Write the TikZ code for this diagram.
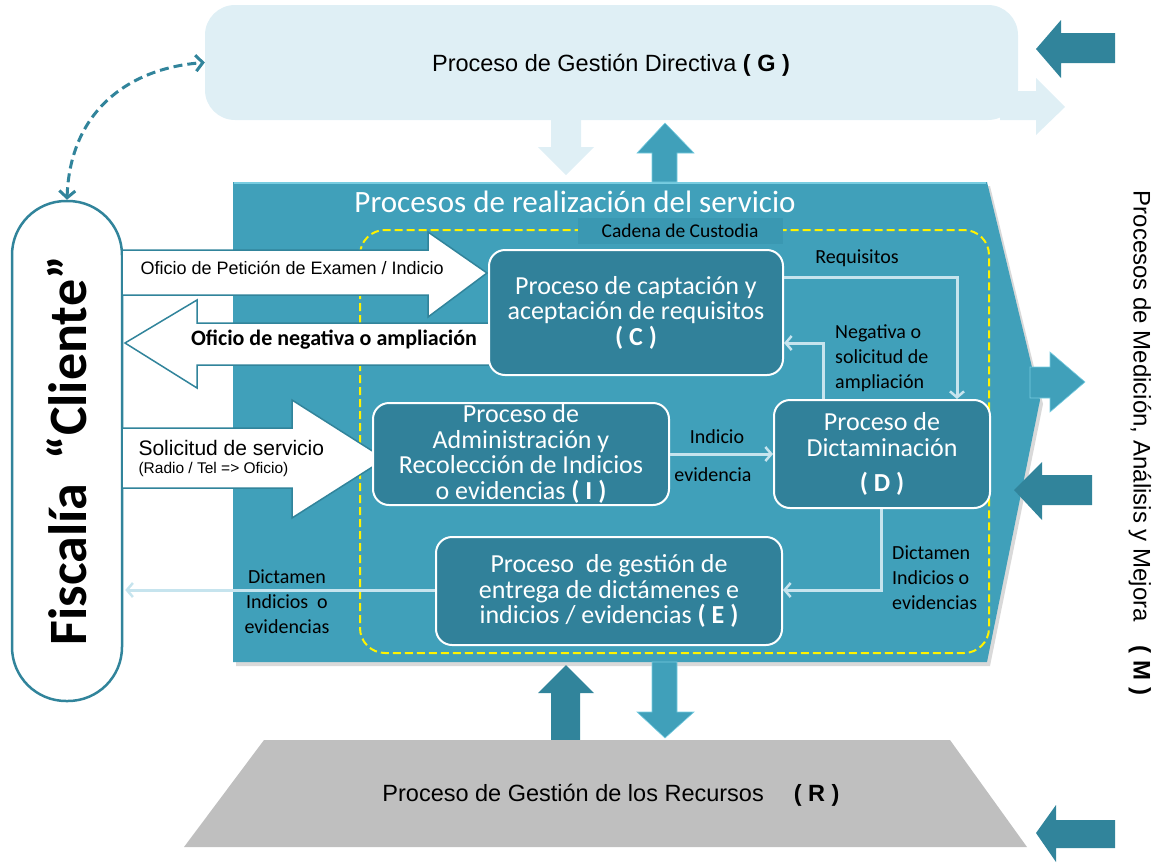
\documentclass[tikz,border=0pt]{standalone}
\usepackage{fontspec}
\setmainfont{Liberation Sans}
\newfontfamily\calfont{Carlito}
\usetikzlibrary{positioning,arrows.meta,calc}

\definecolor{bandblue}{RGB}{223,239,245}
\definecolor{maincol}{RGB}{64,160,186}
\definecolor{boxcol}{RGB}{49,129,154}
\definecolor{darkteal}{RGB}{49,132,155}
\definecolor{paleblue}{RGB}{198,228,238}
\definecolor{resgray}{RGB}{191,191,191}
\definecolor{custcol}{RGB}{58,152,178}
\definecolor{edgecyan}{RGB}{120,205,225}

\tikzset{
  procbox/.style={draw=white, line width=2pt, fill=boxcol, rounded corners=16pt, text=white,
    align=center, inner sep=0pt, font=\calfont\fontsize{26}{25.5}\selectfont},
  lbl/.style={font=\calfont\fontsize{20}{25}\selectfont, align=left, inner sep=0pt},
  paleline/.style={draw=paleblue, line width=3pt, -{Straight Barb[length=6pt,width=14pt,line width=2.5pt]}},
  whitearrow/.style={fill=white, draw=darkteal, line width=1.5pt, line join=miter},
  darkarrow/.style={fill=darkteal},
  tealarrow/.style={fill=maincol, draw=edgecyan, line width=0.6pt},
}

\begin{document}
\begin{tikzpicture}[x=1pt,y=-1pt]
\useasboundingbox (0,0) rectangle (1163,863);

% direccion (G)
\fill[bandblue] (1000,91) -- (1036,91) -- (1036,78) -- (1065,107) -- (1036,135) -- (1036,120) -- (1000,120) -- cycle;
\node[fill=bandblue, rounded corners=30pt, minimum width=813pt, minimum height=115pt, inner sep=0pt] (G) at (611.5,62.5) {};
\node[font=\fontsize{23.5}{28}\selectfont] (Gtxt) at (611,65) {Proceso de Gestión Directiva \textbf{( G )}};
\fill[bandblue] (551,120) -- (581,120) -- (581,147) -- (594,147) -- (566,175) -- (538,147) -- (551,147) -- cycle;

% cuerpo principal
\fill[black, opacity=0.15] (236,186) -- (990,186) -- (1043,404) -- (990,666) -- (236,666) -- cycle;
\fill[maincol] (233,182) -- (987,182) -- (1040,400) -- (987,662) -- (233,662) -- cycle;
\draw[edgecyan, line width=2pt] (234,183) -- (986,183);
\node[font=\calfont\fontsize{31}{34}\selectfont, text=white] (title) at (575,202) {Procesos de realización del servicio};

% flechas verticales
\draw[tealarrow] (652,182) -- (652,153) -- (637,153) -- (665,123) -- (694,153) -- (677,153) -- (677,182) -- cycle;
\draw[tealarrow] (652,662) -- (677,662) -- (677,712) -- (694,712) -- (665,738) -- (637,712) -- (652,712) -- cycle;
\fill[darkarrow] (551,740) -- (551,693) -- (538,693) -- (566,665) -- (594,693) -- (580,693) -- (580,740) -- cycle;
\draw[tealarrow] (1030,367) -- (1050,367) -- (1050,352) -- (1085,382) -- (1050,412) -- (1050,398) -- (1030,398) -- cycle;

% flechas de medicion
\fill[darkarrow] (1115,33) -- (1061,33) -- (1061,20) -- (1036,49) -- (1061,78) -- (1061,63) -- (1115,63) -- cycle;
\fill[darkarrow] (1092,475) -- (1042,475) -- (1042,462) -- (1014,490) -- (1042,520) -- (1042,505) -- (1092,505) -- cycle;
\fill[darkarrow] (1115,820) -- (1056,820) -- (1056,805) -- (1036,833) -- (1056,862) -- (1056,848) -- (1115,848) -- cycle;

% cadena de custodia
\draw[yellow, line width=2pt, dash pattern=on 8pt off 4pt, rounded corners=25pt] (360,230) rectangle (989,653);
\node[fill=custcol, minimum width=205pt, minimum height=26pt, inner sep=0pt,
  font=\calfont\fontsize{19.5}{22}\selectfont] (cust) at (680,231) {Cadena de Custodia};

% cliente
\node[draw=darkteal, line width=2.5pt, fill=white, rounded corners=54pt, minimum width=110pt,
  minimum height=500pt, inner sep=0pt] (cli) at (67,451) {};
\node[rotate=90, font=\calfont\bfseries\fontsize{54}{60}\selectfont] (fis) at (cli) {Fiscalía\ \ “Cliente”};

% flechas blancas
\draw[whitearrow] (122,250) -- (428,250) -- (428,232) -- (487,273) -- (428,317) -- (428,295) -- (122,295) -- cycle;
\node[anchor=west, font=\fontsize{18}{21}\selectfont] (ofi1) at (137,268) {Oficio de Petición de Examen / Indicio};
\draw[whitearrow] (489,323) -- (197,323) -- (197,300) -- (125,343) -- (197,388) -- (197,365) -- (489,365);
\node[font=\calfont\bfseries\fontsize{22}{26}\selectfont] (ofi2) at (334,340) {Oficio de negativa o ampliación};
\draw[whitearrow] (122,428) -- (292,428) -- (292,400) -- (385,459) -- (292,518) -- (292,488) -- (122,488) -- cycle;
\node[anchor=west, font=\fontsize{21}{24}\selectfont] (sol) at (135,448) {Solicitud de servicio};
\node[anchor=west, font=\fontsize{15.5}{18}\selectfont] (rad) at (135,469) {(Radio / Tel => Oficio)};

% procesos
\node[procbox, minimum width=294pt, minimum height=125pt] (C) at (636,312.5)
  {Proceso de captación y\\aceptación de requisitos\\\textbf{( C )}};
\node[procbox, minimum width=296pt, minimum height=102pt] (I) at (521,454)
  {Proceso de\\Administración y\\Recolección de Indicios\\o evidencias \textbf{( I )}};
\node[procbox, minimum width=216pt, minimum height=108pt] (D) at (882,454)
  {Proceso de\\Dictaminación\\[10pt]\textbf{( D )}};
\node[procbox, minimum width=346pt, minimum height=108pt] (E) at (609,591)
  {Proceso\ \ de gestión de\\entrega de dictámenes e\\indicios / evidencias \textbf{( E )}};

% conectores
\coordinate (rq) at (957,277);
\draw[paleline] (C.east |- rq) -- (rq) -- (rq |- D.north);
\node[lbl] (req) at (857,258) {Requisitos};
\coordinate (ng) at (823,343);
\draw[paleline] (ng |- D.north) -- (ng) -- (C.east |- ng);
\node[lbl, anchor=west] (neg) at (835,358) {Negativa o\\solicitud de\\ampliación};
\draw[paleline] (I.east) -- (D.west);
\node[lbl] (ind) at (717,437) {Indicio};
\node[lbl] (evi) at (713,475) {evidencia};
\coordinate (dt) at (881,590);
\draw[paleline] (dt |- D.south) -- (dt) -- (E.east |- dt);
\node[lbl, anchor=west] (dic1) at (892,578) {Dictamen\\Indicios o\\evidencias};
\draw[paleline, shorten >=2pt] (E.west |- dt) -- (cli.east |- dt);
\node[lbl, align=center] (dic2) at (287,602) {Dictamen\\Indicios\ \ o\\evidencias};

% dialogo cliente - direccion
\draw[darkteal, line width=3pt, dash pattern=on 9pt off 5pt,
  {Straight Barb[length=7pt,width=16pt]}-{Straight Barb[length=7pt,width=16pt]}]
  (cli.north) .. controls (70,110) and (130,68) .. (G.west);

% recursos (R)
\fill[resgray] (264,740) -- (950,740) -- (1027,847) -- (184,847) -- cycle;
\node[font=\fontsize{23.5}{28}\selectfont] (R) at (611,795) {Proceso de Gestión de los Recursos\quad\ \textbf{( R )}};

% medicion (M)
\node[rotate=-90, font=\fontsize{24}{28}\selectfont] (M) at (1140,443) {Procesos de Medición, Análisis y Mejora\quad\textbf{( M )}};
\end{tikzpicture}
\end{document}
